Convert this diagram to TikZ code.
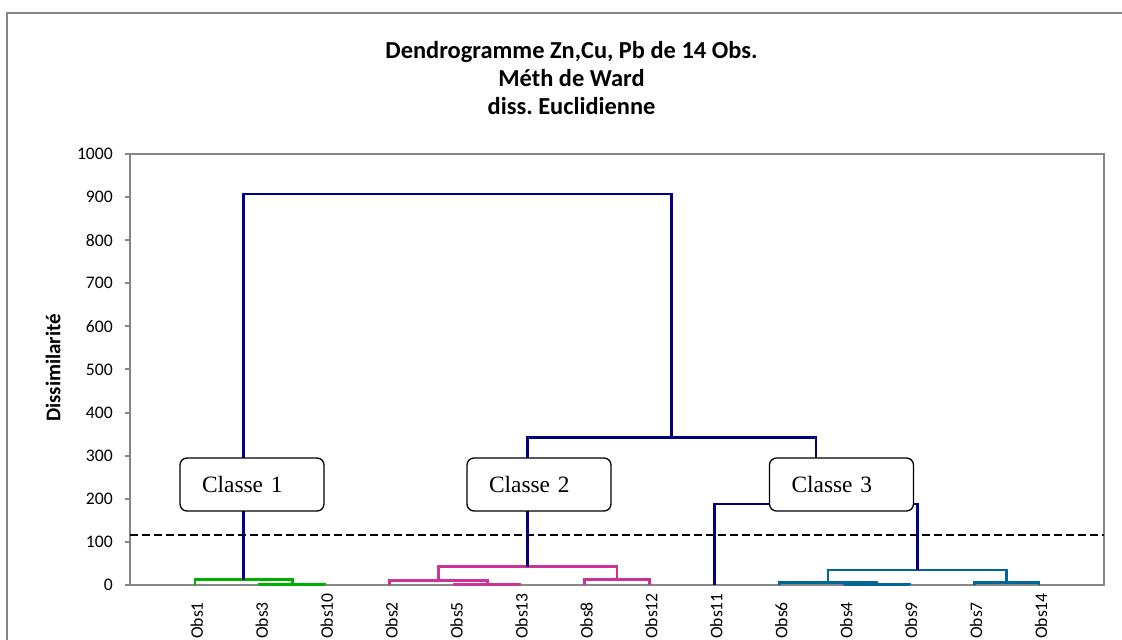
\documentclass[tikz,border=0pt]{standalone}
\usepackage{fontspec}
\setmainfont{Liberation Serif}
\newfontfamily\calibri{Carlito}
\definecolor{nvy}{RGB}{0,0,128}
\definecolor{grn}{RGB}{0,176,0}
\definecolor{pnk}{RGB}{204,51,153}
\definecolor{tel}{RGB}{0,102,153}
\definecolor{axgray}{RGB}{134,134,134}
\frenchspacing
\begin{document}
\begin{tikzpicture}[x=1bp,y=1bp,
  framel/.style={draw=axgray,line width=2bp},
  axisl/.style={draw=axgray,line width=2bp},
  tree/.style={line width=2.8bp},
  cutl/.style={draw=black,line width=2bp,dash pattern=on 8bp off 4bp},
  titlel/.style={font=\calibri\bfseries\fontsize{24.5}{28.5}\selectfont,align=center,inner sep=0pt},
  ticklab/.style={font=\calibri\fontsize{17.7}{20}\selectfont,anchor=east,inner sep=0pt},
  obslab/.style={font=\calibri\fontsize{17.7}{20}\selectfont,rotate=90,anchor=base west,inner sep=0pt},
  axtitle/.style={font=\calibri\bfseries\fontsize{21}{24}\selectfont,rotate=90,inner sep=0pt},
  classbox/.style={draw=black,line width=1.3bp,fill=white,rounded corners=7bp,
    text width=100bp,align=left,inner xsep=22bp,minimum height=53bp,
    font=\fontsize{23.5}{26}\selectfont}]
\useasboundingbox (0,0) rectangle (1122,640);
\fill[white] (0,0) rectangle (1122,640);
% outer chart frame
\draw[framel] (7,0) -- (7,627) -- (1122,627);
% title
\node[titlel] (title) at (571.5,562) {Dendrogramme Zn,Cu, Pb de 14 Obs.\\Méth de Ward\\diss. Euclidienne};
% y axis title
\node[axtitle] (ytitle) at (53,272) {Dissimilarité};
\begin{scope}[shift={(0,55)},y=0.431bp]
  \draw[axisl] (130,0) rectangle (1104,1000);
  \foreach \v in {0,100,...,1000}{
    \draw[axisl] (124.5,\v) -- (130,\v);
    \node[ticklab] (tk\v) at (113,\v) {\v};
  }
  \foreach \n [count=\i] in {1,3,10,2,5,13,8,12,11,6,4,9,7,14}{
    \coordinate (L\n) at ({130+64.933*\i},0);
    \node[obslab] (lab\n) at ([xshift=8bp,yshift=-54bp]L\n) {Obs\n};
  }
  % merge points (x, dissimilarity)
  \coordinate (a) at (292.35,1.5);
  \coordinate (b) at (243.6,12);
  \coordinate (c) at (487.15,1.5);
  \coordinate (d) at (438.4,10);
  \coordinate (e) at (617,12);
  \coordinate (f) at (527.7,42);
  \coordinate (g) at (876.75,1.5);
  \coordinate (h6) at (828,5.5);
  \coordinate (i7) at (1006.6,5.5);
  \coordinate (j) at (917.3,35);
  \coordinate (k) at (815.9,188);
  \coordinate (l) at (671.8,342);
  \coordinate (m) at (457.7,907);
  % class 1
  \draw[tree,grn] (L3) |- (a) -| (L10);
  \draw[tree,grn] (L1) |- (b) -| (a);
  % class 2
  \draw[tree,pnk] (L5) |- (c) -| (L13);
  \draw[tree,pnk] (L2) |- (d) -| (c);
  \draw[tree,pnk] (L8) |- (e) -| (L12);
  \draw[tree,pnk] (d) |- (f) -| (e);
  % class 3
  \draw[tree,tel] (L4) |- (g) -| (L9);
  \draw[tree,tel] (L6) |- (h6) -| (g);
  \draw[tree,tel] (L7) |- (i7) -| (L14);
  \draw[tree,tel] (h6) |- (j) -| (i7);
  % upper levels
  \draw[tree,nvy] (L11) |- (k) -| (j);
  \draw[tree,nvy] (f) |- (l) -| (k);
  \draw[tree,nvy] (b) |- (m) -| (l);
  % cut line
  \coordinate (cutA) at (130,116);
  \coordinate (cutB) at (1104,116);
  \draw[cutl] (cutA) -- (cutB);
\end{scope}
% class labels
\node[classbox] (cl1) at (252,155.5) {Classe 1};
\node[classbox] (cl2) at (539,155.5) {Classe 2};
\node[classbox] (cl3) at (841.5,155.5) {Classe 3};
\end{tikzpicture}
\end{document}
